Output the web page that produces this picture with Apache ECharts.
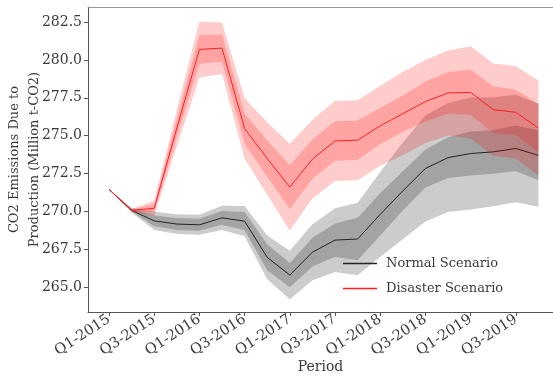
<!DOCTYPE html>
<html><head><meta charset="utf-8">
<script src="https://cdn.jsdelivr.net/npm/echarts@6/dist/echarts.min.js"></script>
<style>html,body{margin:0;padding:0;background:#fff}#c{width:553px;height:379px}</style>
</head><body><div id="c"></div>
<script>
// Quarters (x index = position in this list)
const quarters = ['Q1-2015','Q2-2015','Q3-2015','Q4-2015','Q1-2016','Q2-2016','Q3-2016','Q4-2016',
  'Q1-2017','Q2-2017','Q3-2017','Q4-2017','Q1-2018','Q2-2018','Q3-2018','Q4-2018',
  'Q1-2019','Q2-2019','Q3-2019','Q4-2019'];
const xTickIndex = [0,2,4,6,8,10,12,14,16,18];
const xTickLabels = ['Q1-2015','Q3-2015','Q1-2016','Q3-2016','Q1-2017','Q3-2017','Q1-2018','Q3-2018','Q1-2019','Q3-2019'];
const yTickValues = [265.0, 267.5, 270.0, 272.5, 275.0, 277.5, 280.0, 282.5];

// Normal scenario: mean, inner band half-width, outer band half-width
const normalMean  = [271.45,270.07,269.37,269.16,269.11,269.57,269.35,266.96,265.79,267.30,
                     268.10,268.17,269.80,271.35,272.83,273.55,273.82,273.93,274.15,273.70];
const normalInner = [0.00,0.08,0.35,0.40,0.40,0.45,0.60,0.85,0.80,0.95,
                     1.10,1.40,1.40,1.30,1.25,1.35,1.45,1.45,1.50,1.65];
const normalOuter = [0.00,0.15,0.60,0.65,0.66,0.80,1.00,1.45,1.60,1.85,
                     2.10,2.40,2.80,3.20,3.50,3.60,3.70,3.60,3.55,3.40];

// Disaster scenario
const disasterMean  = [271.45,270.07,270.20,275.50,280.70,280.78,275.47,273.49,271.60,273.45,
                       274.65,274.70,275.65,276.45,277.25,277.82,277.86,276.72,276.54,275.50];
const disasterInner = [0.00,0.05,0.25,0.60,0.95,0.90,1.00,1.20,1.45,1.30,
                       1.30,1.30,1.20,1.20,1.32,1.38,1.50,1.54,1.50,1.59];
const disasterOuter = [0.00,0.10,0.50,1.20,1.85,1.70,2.00,2.40,2.87,2.60,
                       2.64,2.64,2.64,2.75,2.75,2.81,3.04,3.04,3.06,3.12];

const FONT = 'DejaVu Serif';
const TXT = '#3a3a3a';

function band(mean, half, fill, z) {
  return {
    type: 'custom', silent: true, z: z,
    data: quarters.map((q, i) => [i, mean[i]]),
    encode: { x: 0, y: 1 },
    renderItem: function (params, api) {
      if (params.dataIndex !== 0) return null;
      const pts = [];
      for (let i = 0; i < mean.length; i++) pts.push(api.coord([i, mean[i] + half[i]]));
      for (let i = mean.length - 1; i >= 0; i--) pts.push(api.coord([i, mean[i] - half[i]]));
      return { type: 'polygon', shape: { points: pts }, style: { fill: fill } };
    }
  };
}
function line(name, mean, color, z) {
  return {
    name: name, type: 'line', z: z, symbol: 'none',
    data: quarters.map((q, i) => [i, mean[i]]),
    lineStyle: { color: color, width: 1 }, itemStyle: { color: color }
  };
}

const chart = echarts.init(document.getElementById('c'), null, { renderer: 'canvas' });
chart.setOption({
  animation: false,
  backgroundColor: '#fff',
  grid: { left: 88, right: 0, top: 7, bottom: 67, containLabel: false, outerBoundsMode: 'none' },
  xAxis: [{
    type: 'value', min: -0.93, max: 19.645,
    name: 'Period', nameLocation: 'middle', nameGap: 48, nameMoveOverlap: false,
    nameTextStyle: { fontFamily: FONT, fontSize: 14, color: TXT },
    splitLine: { show: false },
    axisLine: { show: true, onZero: false, lineStyle: { color: '#555', width: 1 } },
    axisTick: { show: true, length: 4, lineStyle: { color: '#555' }, customValues: xTickIndex },
    axisLabel: {
      rotate: 33, margin: 6, fontFamily: FONT, fontSize: 14.5, color: TXT,
      customValues: xTickIndex, hideOverlap: false,
      formatter: v => xTickLabels[xTickIndex.indexOf(Math.round(v))] || ''
    }
  }, {
    type: 'value', position: 'top', min: -0.93, max: 19.645,
    axisLine: { show: true, onZero: false, lineStyle: { color: '#999', width: 1 } },
    axisTick: { show: false }, axisLabel: { show: false }, splitLine: { show: false }
  }],
  yAxis: {
    type: 'value', min: 263.35, max: 283.5,
    name: 'CO2 Emissions Due to\nProduction (Million t-CO2)',
    nameLocation: 'middle', nameGap: 43, nameRotate: 90, nameMoveOverlap: false,
    nameTextStyle: { fontFamily: FONT, fontSize: 13, color: TXT, lineHeight: 20 },
    splitLine: { show: false },
    axisLine: { show: true, onZero: false, lineStyle: { color: '#555', width: 1 } },
    axisTick: { show: true, length: 4, lineStyle: { color: '#555' }, customValues: yTickValues },
    axisLabel: {
      margin: 6, fontFamily: FONT, fontSize: 14, color: TXT,
      customValues: yTickValues, formatter: v => v.toFixed(1)
    }
  },
  legend: {
    orient: 'vertical', left: 338, top: 252, itemGap: 12,
    icon: 'rect', itemWidth: 34, itemHeight: 1.5,
    textStyle: { fontFamily: FONT, fontSize: 13, color: TXT, padding: [0, 0, 0, 4] },
    data: ['Normal Scenario', 'Disaster Scenario']
  },
  series: [
    band(normalMean, normalOuter, 'rgba(0,0,0,0.2)', 1),
    band(normalMean, normalInner, 'rgba(0,0,0,0.2)', 2),
    line('Normal Scenario', normalMean, '#222', 3),
    band(disasterMean, disasterOuter, 'rgba(255,0,0,0.2)', 4),
    band(disasterMean, disasterInner, 'rgba(255,0,0,0.2)', 5),
    line('Disaster Scenario', disasterMean, '#ff2020', 6)
  ]
});
</script></body></html>
